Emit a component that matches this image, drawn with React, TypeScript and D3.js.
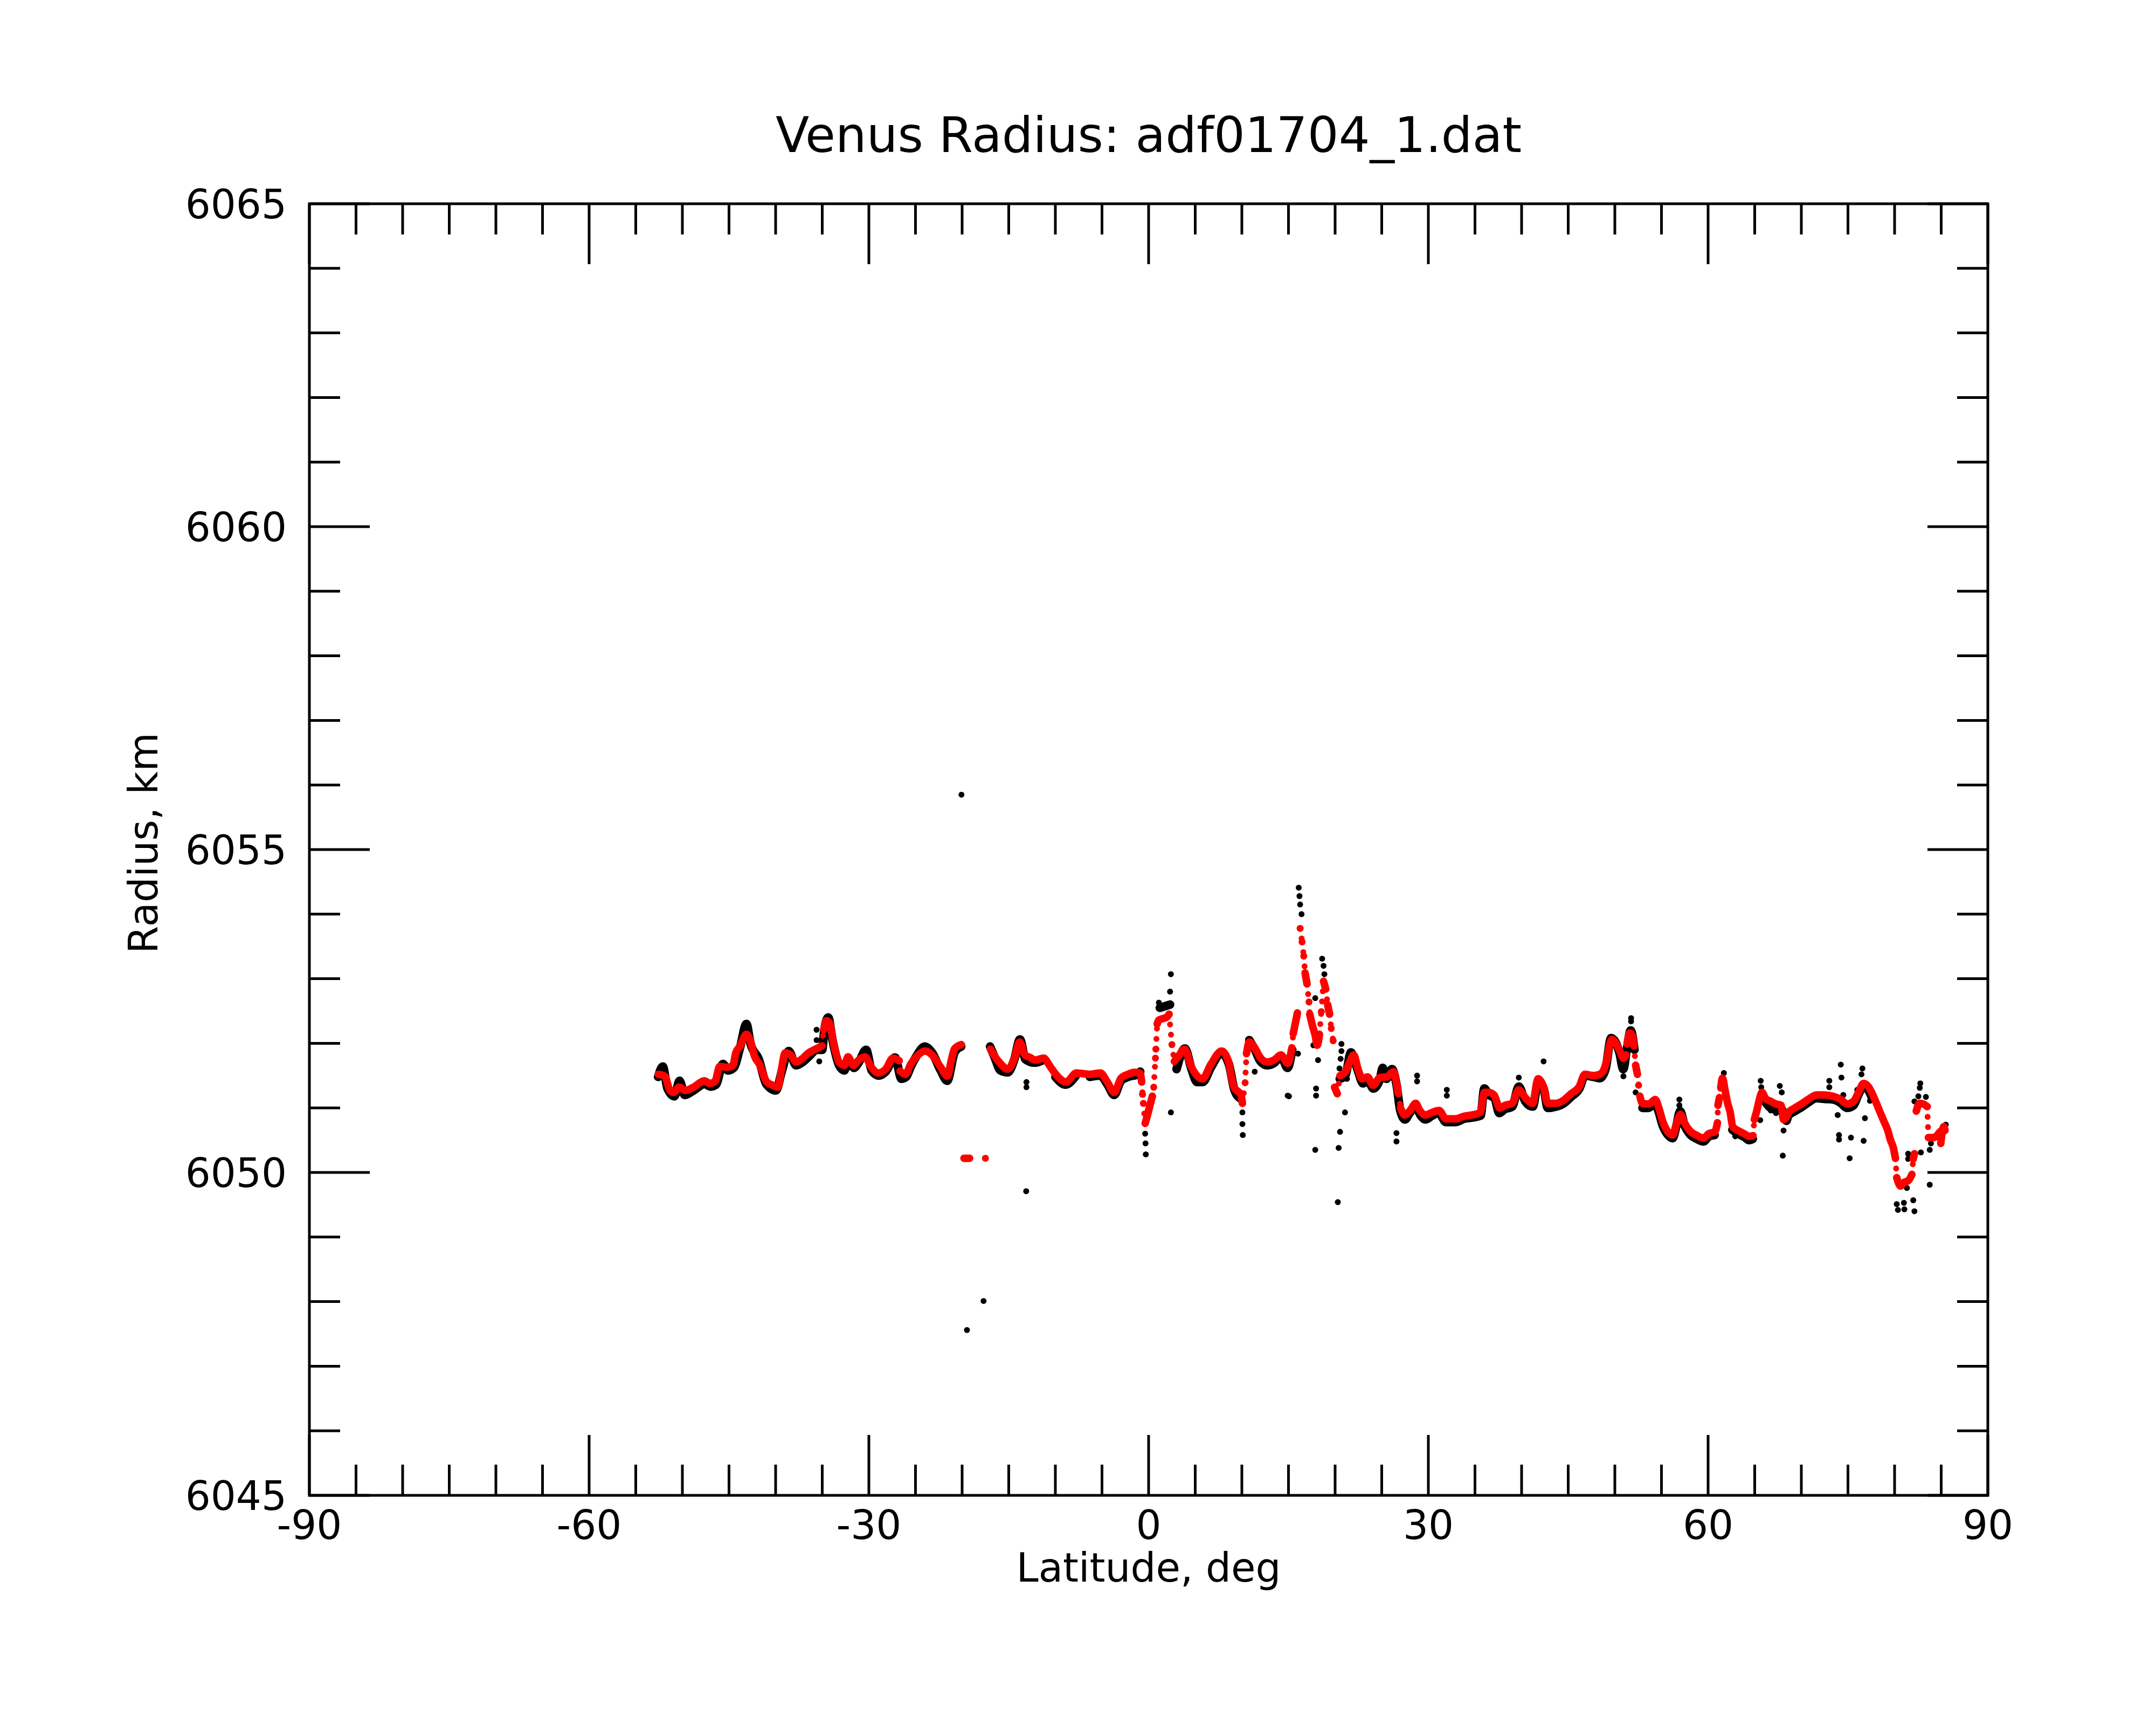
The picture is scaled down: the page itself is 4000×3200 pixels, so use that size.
import { useMemo } from "react";
import * as d3 from "d3";

const WIDTH = 4000;
const HEIGHT = 3200;
const PLOT = { left: 574, right: 3688, top: 378, bottom: 2774 };

const TITLE = "Venus Radius: adf01704_1.dat";
const X_LABEL = "Latitude, deg";
const Y_LABEL = "Radius, km";

const xDomain: [number, number] = [-90, 90];
const yDomain: [number, number] = [6045, 6065];
const xMajorTicks = [-90, -60, -30, 0, 30, 60, 90];
const yMajorTicks = [6045, 6050, 6055, 6060, 6065];
const xMinorTicks = d3.range(-90, 91, 5).filter((t) => t % 30 !== 0);
const yMinorTicks = d3.range(6045, 6066, 1).filter((t) => t % 5 !== 0);

// smoothed profile (red), [latitude, radius]
const redTrace: [number, number][] = [
  [-52.57, 6051.52], [-51.89, 6051.49], [-51.32, 6051.27], [-50.93, 6051.24], [-50.35, 6051.32],
  [-49.68, 6051.27], [-48.81, 6051.32], [-47.65, 6051.42], [-47.08, 6051.38], [-46.5, 6051.41],
  [-46.0, 6051.64], [-45.15, 6051.63], [-44.57, 6051.66], [-44.28, 6051.85], [-43.8, 6051.96],
  [-43.13, 6052.14], [-42.74, 6052.05], [-42.26, 6051.8], [-41.68, 6051.66], [-41.0, 6051.41],
  [-40.33, 6051.35], [-39.75, 6051.32], [-39.37, 6051.6], [-38.98, 6051.85], [-38.4, 6051.82],
  [-37.83, 6051.71], [-37.25, 6051.75], [-36.48, 6051.85], [-35.71, 6051.91], [-35.03, 6051.96],
  [-34.84, 6052.21], [-34.55, 6052.35], [-34.17, 6052.3], [-33.88, 6052.07], [-33.59, 6051.88],
  [-33.2, 6051.71], [-32.63, 6051.66], [-32.24, 6051.79], [-31.66, 6051.66], [-31.09, 6051.74],
  [-30.41, 6051.79], [-29.74, 6051.63], [-28.97, 6051.54], [-28.2, 6051.6], [-27.42, 6051.77],
  [-26.75, 6051.73], [-26.65, 6051.57], [-26.08, 6051.52], [-25.5, 6051.68], [-24.92, 6051.79],
  [-23.96, 6051.88], [-23.23, 6051.82], [-22.3, 6051.63],
  [-21.57, 6051.49], [-21.2, 6051.71], [-20.83, 6051.91], [-20.09, 6051.98],
  [-19.8, 6050.22], [-19.2, 6050.22], [-17.5, 6050.22],
  [-16.96, 6051.91], [-16.6, 6051.82], [-15.85, 6051.68], [-15.12, 6051.6], [-14.38, 6051.77],
  [-13.83, 6052.02], [-13.27, 6051.82], [-12.7, 6051.78], [-12.17, 6051.74], [-11.25, 6051.77],
  [-10.6, 6051.65], [-9.96, 6051.52], [-8.85, 6051.4], [-7.75, 6051.54], [-7.0, 6051.53],
  [-6.27, 6051.52], [-5.17, 6051.54], [-4.43, 6051.4], [-3.69, 6051.24], [-2.96, 6051.46],
  [-2.22, 6051.52], [-1.5, 6051.55], [-0.93, 6051.54], [-0.74, 6051.4], [-0.65, 6051.21],
  [-0.56, 6051.07], [-0.37, 6050.76], [-0.1, 6050.9], [0.2, 6051.07], [0.4, 6051.18],
  [0.55, 6051.32], [0.73, 6051.77], [0.78, 6051.91], [0.92, 6052.3], [1.1, 6052.36],
  [1.47, 6052.38], [1.9, 6052.4], [2.2, 6052.45], [2.5, 6051.98], [2.76, 6051.72],
  [3.2, 6051.8], [3.86, 6051.91], [4.6, 6051.63], [5.78, 6051.45], [6.66, 6051.67],
  [7.84, 6051.88], [8.58, 6051.71], [8.88, 6051.48], [9.17, 6051.32], [9.91, 6051.2],
  [10.06, 6051.07], [10.35, 6051.39], [10.5, 6051.84], [10.8, 6052.02], [11.38, 6051.93],
  [11.97, 6051.78], [12.71, 6051.71], [13.45, 6051.74], [14.19, 6051.82], [14.92, 6051.69],
  [15.37, 6051.93], [15.51, 6052.15], [15.96, 6052.47], [16.25, 6053.78], [16.46, 6053.57],
  [16.64, 6053.35], [16.78, 6053.09], [16.99, 6052.92], [17.2, 6052.64], [17.28, 6052.45],
  [17.58, 6052.27], [17.87, 6052.12], [18.08, 6051.97], [18.32, 6052.14], [18.52, 6052.49],
  [18.76, 6052.96], [19.0, 6052.84], [19.2, 6052.6], [19.41, 6052.45], [19.59, 6052.23],
  [19.79, 6052.04], [19.94, 6051.32], [20.23, 6051.22], [20.53, 6051.5], [21.12, 6051.56],
  [21.56, 6051.71], [22.0, 6051.82], [22.45, 6051.6], [22.89, 6051.45], [23.48, 6051.48],
  [24.07, 6051.35], [24.81, 6051.47], [25.54, 6051.48], [26.28, 6051.56], [26.58, 6051.39],
  [26.78, 6051.22], [27.02, 6051.0], [27.46, 6050.89], [28.05, 6050.96], [28.64, 6051.07],
  [29.08, 6050.96], [29.67, 6050.89], [30.41, 6050.93], [31.15, 6050.96], [31.89, 6050.83],
  [32.92, 6050.83], [33.8, 6050.87], [34.69, 6050.89], [35.57, 6050.93], [36.01, 6051.24],
  [36.46, 6051.24], [37.05, 6051.2], [37.64, 6051.0], [38.23, 6051.04], [38.97, 6051.07],
  [39.7, 6051.28], [40.44, 6051.15], [41.18, 6051.07], [41.77, 6051.45], [42.36, 6051.32],
  [42.8, 6051.07], [43.69, 6051.07], [44.42, 6051.11], [45.31, 6051.22], [46.19, 6051.33],
  [46.78, 6051.52], [47.67, 6051.5], [48.4, 6051.52], [48.9, 6051.62], [49.15, 6051.75],
  [49.42, 6051.96], [49.69, 6052.06], [50.1, 6052.0], [50.51, 6051.89], [50.92, 6051.77],
  [51.19, 6051.82], [51.33, 6051.99], [51.6, 6052.16], [51.87, 6052.12], [52.06, 6051.96],
  [52.23, 6051.66], [52.42, 6051.52], [52.55, 6051.35], [52.69, 6051.18], [52.96, 6051.07],
  [53.65, 6051.06], [54.33, 6051.13], [54.74, 6050.99], [55.14, 6050.79], [55.69, 6050.63],
  [56.24, 6050.58], [56.64, 6050.77], [57.05, 6050.9], [57.46, 6050.77], [58.01, 6050.65],
  [58.83, 6050.57], [59.51, 6050.53], [60.05, 6050.6], [60.73, 6050.63], [61.0, 6050.77],
  [61.06, 6051.04], [61.22, 6051.16], [61.36, 6051.31], [61.55, 6051.46], [61.82, 6051.27],
  [62.1, 6051.07], [62.37, 6050.93], [62.64, 6050.71], [63.19, 6050.65], [63.87, 6050.6],
  [64.41, 6050.56], [64.82, 6050.57], [64.96, 6050.82], [65.23, 6050.96], [65.5, 6051.13],
  [65.78, 6051.24], [66.19, 6051.14], [66.73, 6051.1], [67.28, 6051.06], [67.82, 6051.04],
  [68.09, 6050.82], [68.37, 6050.85], [68.64, 6050.93], [69.19, 6050.99], [70.0, 6051.06],
  [70.82, 6051.14], [71.64, 6051.2], [72.46, 6051.2], [73.41, 6051.18], [74.23, 6051.13],
  [74.91, 6051.06], [75.59, 6051.1], [76.14, 6051.24], [76.68, 6051.38], [77.23, 6051.32],
  [77.64, 6051.21], [78.05, 6051.07], [78.45, 6050.93], [78.86, 6050.79], [79.27, 6050.65],
  [79.54, 6050.51], [79.87, 6050.38], [80.09, 6050.22], [80.23, 6049.92], [80.64, 6049.79],
  [81.05, 6049.85], [81.45, 6049.87], [81.86, 6049.97], [82.0, 6050.21], [82.13, 6050.29],
  [82.33, 6050.95], [82.68, 6051.07], [83.09, 6051.06], [83.5, 6051.02], [83.63, 6050.54],
  [84.18, 6050.54], [84.86, 6050.63], [84.95, 6050.45], [85.27, 6050.71], [85.41, 6050.65],
];

// raw profile (black), dense band under the red curve
const blackTrace: [number, number][] = [
  [-52.6, 6051.48], [-52.1, 6051.64], [-51.6, 6051.3], [-50.85, 6051.18], [-50.3, 6051.42],
  [-49.75, 6051.2], [-48.8, 6051.27], [-47.6, 6051.37], [-47.0, 6051.33], [-46.4, 6051.36],
  [-45.65, 6051.68], [-45.1, 6051.58], [-44.5, 6051.62], [-43.8, 6051.94], [-43.13, 6052.3],
  [-42.7, 6052.0], [-41.8, 6051.75], [-41.0, 6051.37], [-39.95, 6051.27], [-39.35, 6051.56],
  [-38.6, 6051.88], [-37.8, 6051.66], [-37.2, 6051.7], [-36.4, 6051.8], [-35.6, 6051.9],
  [-35.0, 6051.9], [-34.8, 6052.18], [-34.36, 6052.4], [-33.9, 6052.05], [-33.2, 6051.66],
  [-32.63, 6051.58], [-32.2, 6051.75], [-31.6, 6051.62], [-31.1, 6051.7], [-30.3, 6051.9],
  [-29.7, 6051.58], [-28.9, 6051.5], [-28.2, 6051.56], [-27.2, 6051.78], [-26.5, 6051.45],
  [-26.0, 6051.48], [-25.5, 6051.64], [-24.9, 6051.8], [-24.0, 6051.95], [-23.2, 6051.85],
  [-22.3, 6051.58], [-21.6, 6051.42], [-20.8, 6051.86], [-20.1, 6051.95],
  [-17.0, 6051.95], [-16.5, 6051.78], [-15.9, 6051.58], [-15.1, 6051.55], [-14.4, 6051.75],
  [-13.8, 6052.06], [-13.2, 6051.75], [-12.2, 6051.7], [-11.3, 6051.74], [-10.0, 6051.48],
  [-8.9, 6051.36], [-7.8, 6051.5], [-6.3, 6051.48], [-5.2, 6051.5], [-4.4, 6051.36],
  [-3.7, 6051.2], [-2.96, 6051.42], [-2.2, 6051.48], [-1.2, 6051.52], [-0.9, 6051.56],
  [1.2, 6052.55], [2.3, 6052.6],
  [3.0, 6051.6], [3.9, 6051.92], [4.6, 6051.6], [5.2, 6051.4], [5.8, 6051.4],
  [6.7, 6051.63], [7.8, 6051.85], [8.6, 6051.68], [9.2, 6051.28], [9.8, 6051.15],
  [10.8, 6052.05], [11.4, 6051.9], [12.0, 6051.72], [12.7, 6051.66], [13.5, 6051.7],
  [14.2, 6051.8], [14.9, 6051.62], [15.4, 6051.9],
  [20.5, 6051.45], [21.1, 6051.5], [21.7, 6051.86], [22.0, 6051.77], [22.5, 6051.55],
  [23.0, 6051.38], [23.5, 6051.42], [24.1, 6051.3], [24.8, 6051.44], [25.1, 6051.62],
  [25.5, 6051.45], [26.1, 6051.6], [26.6, 6051.35], [27.0, 6050.95], [27.5, 6050.82],
  [28.0, 6050.92], [28.7, 6051.02], [29.1, 6050.9], [29.7, 6050.82], [30.4, 6050.88],
  [31.1, 6050.92], [31.9, 6050.78], [32.9, 6050.78], [33.8, 6050.83], [34.7, 6050.85],
  [35.6, 6050.88], [36.0, 6051.3], [36.5, 6051.2], [37.1, 6051.15], [37.6, 6050.92],
  [38.2, 6050.98], [39.0, 6051.02], [39.7, 6051.33], [40.4, 6051.1], [41.2, 6051.02],
  [41.8, 6051.42], [42.4, 6051.28], [42.8, 6051.0], [43.7, 6051.02], [44.4, 6051.06],
  [45.3, 6051.17], [46.2, 6051.3], [46.8, 6051.5], [47.7, 6051.48], [48.4, 6051.46],
  [49.0, 6051.6], [49.6, 6052.08], [50.5, 6051.85], [50.9, 6051.6], [51.3, 6051.92],
  [51.7, 6052.2], [52.1, 6051.9],
  [52.96, 6051.0], [53.6, 6051.0], [54.3, 6051.07], [54.7, 6050.94], [55.1, 6050.74],
  [55.7, 6050.58], [56.2, 6050.53], [56.6, 6050.72], [57.0, 6050.95], [57.5, 6050.72],
  [58.0, 6050.6], [58.8, 6050.52], [59.5, 6050.48], [60.1, 6050.56], [60.7, 6050.58],
  [62.6, 6050.66], [63.2, 6050.6], [63.9, 6050.55], [64.4, 6050.5], [64.8, 6050.52],
  [66.2, 6051.08], [66.7, 6051.0], [67.3, 6050.98], [67.8, 6051.0], [68.4, 6050.8],
  [68.6, 6050.88], [69.2, 6050.94], [70.0, 6051.01], [70.8, 6051.09], [71.6, 6051.15],
  [72.5, 6051.14], [73.4, 6051.13], [74.2, 6051.08], [74.9, 6051.0], [75.6, 6051.04],
  [76.1, 6051.2], [76.7, 6051.34], [77.2, 6051.27], [77.6, 6051.15],
];

// raw profile (black), isolated points away from the band
const blackScatter: [number, number][] = [
  [-35.61, 6052.21], [-35.6, 6052.05], [-35.32, 6051.72], [-20.07, 6055.85], [-19.48, 6047.56],
  [-17.7, 6048.01], [-13.13, 6049.71], [-13.1, 6051.4], [-13.1, 6051.32], [-0.37, 6050.6],
  [-0.33, 6050.45], [-0.3, 6050.28], [1.1, 6052.63], [2.2, 6052.6], [2.3, 6052.8],
  [2.39, 6053.07], [2.39, 6050.93], [10.06, 6050.93], [10.06, 6050.75], [10.1, 6050.58],
  [11.38, 6051.56], [14.92, 6051.19], [15.05, 6051.18], [16.02, 6051.84], [16.1, 6054.41],
  [16.18, 6054.28], [16.25, 6054.15], [16.4, 6054.0], [17.67, 6051.97], [17.87, 6052.7],
  [17.87, 6050.35], [17.96, 6051.3], [17.96, 6051.19], [18.17, 6051.74], [18.61, 6053.31],
  [18.76, 6053.2], [18.85, 6053.07], [20.29, 6049.54], [20.38, 6050.38], [20.47, 6051.61],
  [20.53, 6050.63], [20.59, 6051.76], [20.68, 6051.88], [20.68, 6051.99], [21.06, 6050.93],
  [21.27, 6051.45], [26.58, 6050.61], [26.58, 6050.48], [28.79, 6051.5], [28.79, 6051.41],
  [31.98, 6051.28], [31.98, 6051.19], [39.7, 6051.47], [42.36, 6051.72],
  [50.92, 6051.49], [50.95, 6051.59], [50.92, 6051.66], [51.74, 6052.39], [51.74, 6052.34],
  [52.23, 6051.24], [56.92, 6051.13], [56.92, 6051.04], [61.69, 6051.54], [62.91, 6050.56],
  [64.55, 6050.49], [65.59, 6050.81], [65.64, 6051.42], [65.7, 6051.32], [66.73, 6050.96],
  [67.28, 6050.92], [67.69, 6051.34], [67.9, 6051.24], [68.01, 6050.26], [68.09, 6050.65],
  [73.0, 6051.42], [73.0, 6051.32], [73.9, 6050.89], [74.04, 6050.58], [74.04, 6050.51],
  [74.23, 6051.67], [74.3, 6051.47], [74.5, 6051.2], [74.91, 6050.99], [75.18, 6050.22],
  [75.32, 6050.54], [76.0, 6051.28], [76.45, 6051.52], [76.55, 6051.61], [76.68, 6050.49],
  [76.82, 6050.84], [77.36, 6051.11], [80.23, 6049.51], [80.36, 6049.42], [81.0, 6049.53],
  [81.05, 6049.43], [81.32, 6049.76], [81.45, 6050.29], [81.45, 6050.21], [81.73, 6049.93],
  [82.0, 6049.57], [82.13, 6049.4], [82.13, 6051.1], [82.55, 6051.18], [82.7, 6051.31],
  [82.76, 6051.38], [82.82, 6050.31], [83.36, 6051.17], [83.77, 6050.35], [83.77, 6049.81],
  [83.9, 6050.45], [85.49, 6050.74],
];

const FONT = "DejaVu Sans, Verdana, sans-serif";

type Pt = [number, number];

// Group neighbouring samples: gentle stretches become solid runs,
// steep jumps are drawn dotted, wide gaps are left empty.
function classify(
  pts: Pt[],
  x: d3.ScaleLinear<number, number>,
  y: d3.ScaleLinear<number, number>,
  steepSlope: number
) {
  const runs: Pt[][] = [];
  const dotted: [Pt, Pt][] = [];
  let cur: Pt[] = [pts[0]];
  for (let i = 1; i < pts.length; i++) {
    const q = pts[i - 1];
    const p = pts[i];
    const dLat = p[0] - q[0];
    const dist = Math.hypot(x(p[0]) - x(q[0]), y(p[1]) - y(q[1]));
    const slope = Math.abs(p[1] - q[1]) / Math.max(dLat, 1e-6);
    const gap = dLat > 1.25 || dist > 70;
    const steep = !gap && slope > steepSlope;
    if (gap || steep) {
      if (cur.length > 1) runs.push(cur);
      cur = [p];
      if (steep) dotted.push([q, p]);
    } else {
      cur.push(p);
    }
  }
  if (cur.length > 1) runs.push(cur);
  return { runs, dotted };
}

export default function App() {
  const x = useMemo(
    () => d3.scaleLinear().domain(xDomain).range([PLOT.left, PLOT.right]),
    []
  );
  const y = useMemo(
    () => d3.scaleLinear().domain(yDomain).range([PLOT.bottom, PLOT.top]),
    []
  );
  const line = d3
    .line<Pt>()
    .x((d) => x(d[0]))
    .y((d) => y(d[1]))
    .curve(d3.curveMonotoneX);

  const red = classify(redTrace, x, y, 0.9);
  const black = classify(blackTrace, x, y, 99);

  const majorLen = 112;
  const minorLen = 57;
  const midX = (PLOT.left + PLOT.right) / 2;

  return (
    <svg
      width={WIDTH}
      height={HEIGHT}
      style={{ position: "absolute", left: 0, top: 0, background: "#fff" }}
      fontFamily={FONT}
    >
      <rect width={WIDTH} height={HEIGHT} fill="#fff" />

      {/* data: raw (black) under smoothed (red) */}
      <g>
        {black.runs.map((run, i) => (
          <path
            key={`bl${i}`}
            d={line(run) ?? ""}
            fill="none"
            stroke="#000"
            strokeWidth={16}
            strokeLinejoin="round"
            strokeLinecap="round"
          />
        ))}
        {blackTrace.map((d, i) => (
          <circle key={`bt${i}`} cx={x(d[0])} cy={y(d[1])} r={7} fill="#000" />
        ))}
        {blackScatter.map((d, i) => (
          <circle key={`bs${i}`} cx={x(d[0])} cy={y(d[1])} r={5.5} fill="#000" />
        ))}
        {red.runs.map((run, i) => (
          <path
            key={`rl${i}`}
            d={line(run) ?? ""}
            fill="none"
            stroke="#ff0000"
            strokeWidth={14}
            strokeLinejoin="round"
            strokeLinecap="round"
          />
        ))}
        {red.dotted.map(([a, b], i) => (
          <line
            key={`rs${i}`}
            x1={x(a[0])}
            y1={y(a[1])}
            x2={x(b[0])}
            y2={y(b[1])}
            stroke="#ff0000"
            strokeWidth={11}
            strokeLinecap="round"
            strokeDasharray="0 19"
          />
        ))}
        {redTrace.map((d, i) => (
          <circle key={`rd${i}`} cx={x(d[0])} cy={y(d[1])} r={6.5} fill="#ff0000" />
        ))}
      </g>

      {/* ticks on all four sides */}
      <g stroke="#000" strokeWidth={5}>
        {xMajorTicks.map((t) => (
          <g key={`xM${t}`}>
            <line x1={x(t)} x2={x(t)} y1={PLOT.bottom} y2={PLOT.bottom - majorLen} />
            <line x1={x(t)} x2={x(t)} y1={PLOT.top} y2={PLOT.top + majorLen} />
          </g>
        ))}
        {xMinorTicks.map((t) => (
          <g key={`xm${t}`}>
            <line x1={x(t)} x2={x(t)} y1={PLOT.bottom} y2={PLOT.bottom - minorLen} />
            <line x1={x(t)} x2={x(t)} y1={PLOT.top} y2={PLOT.top + minorLen} />
          </g>
        ))}
        {yMajorTicks.map((t) => (
          <g key={`yM${t}`}>
            <line x1={PLOT.left} x2={PLOT.left + majorLen} y1={y(t)} y2={y(t)} />
            <line x1={PLOT.right} x2={PLOT.right - majorLen} y1={y(t)} y2={y(t)} />
          </g>
        ))}
        {yMinorTicks.map((t) => (
          <g key={`ym${t}`}>
            <line x1={PLOT.left} x2={PLOT.left + minorLen} y1={y(t)} y2={y(t)} />
            <line x1={PLOT.right} x2={PLOT.right - minorLen} y1={y(t)} y2={y(t)} />
          </g>
        ))}
        <rect
          x={PLOT.left}
          y={PLOT.top}
          width={PLOT.right - PLOT.left}
          height={PLOT.bottom - PLOT.top}
          fill="none"
        />
      </g>

      {/* tick labels */}
      <g fontSize={74} fill="#000">
        {xMajorTicks.map((t) => (
          <text key={`xl${t}`} x={x(t)} y={PLOT.bottom + 81} textAnchor="middle">
            {t}
          </text>
        ))}
        {yMajorTicks.map((t) => (
          <text key={`yl${t}`} x={PLOT.left - 42} y={y(t) + 27} textAnchor="end">
            {t}
          </text>
        ))}
      </g>

      {/* titles */}
      <text x={midX} y={282} textAnchor="middle" fontSize={91} fill="#000">
        {TITLE}
      </text>
      <text x={midX} y={2934} textAnchor="middle" fontSize={74} fill="#000">
        {X_LABEL}
      </text>
      <text
        transform={`translate(292, 1564) rotate(-90)`}
        textAnchor="middle"
        fontSize={74}
        fill="#000"
      >
        {Y_LABEL}
      </text>
    </svg>
  );
}
